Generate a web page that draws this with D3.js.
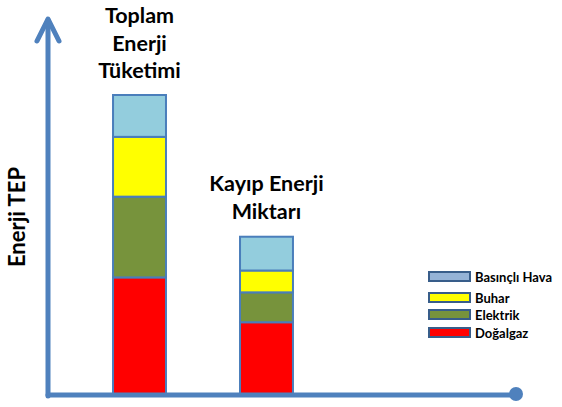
<!DOCTYPE html>
<html>
<head>
<meta charset="utf-8">
<script src="https://cdn.jsdelivr.net/npm/d3@7"></script>
<style>
  html, body { margin: 0; padding: 0; background: #fff; }
  svg { display: block; font-family: Lato, "Open Sans", sans-serif; }
</style>
</head>
<body>
<svg id="chart" width="562" height="407"></svg>
<script>
// Energy breakdown (TEP) for total consumption and losses
const categories = ["Toplam Enerji Tüketimi", "Kayıp Enerji Miktarı"];
const categoryLines = [["Toplam", "Enerji", "Tüketimi"], ["Kayıp Enerji", "Miktarı"]];
const seriesNames = ["Doğalgaz", "Elektrik", "Buhar", "Basınçlı Hava"];
const dogalgaz = [39, 24];
const elektrik = [27, 10];
const buhar = [20, 7.3];
const basincliHava = [14, 11.3];
const legendOrder = ["Basınçlı Hava", "Buhar", "Elektrik", "Doğalgaz"];

const barColors = { "Doğalgaz": "#FF0000", "Elektrik": "#77933C", "Buhar": "#FFFF00", "Basınçlı Hava": "#93CDDD" };
const legendColors = { "Doğalgaz": "#FF0000", "Elektrik": "#77933C", "Buhar": "#FFFF00", "Basınçlı Hava": "#95B3D7" };

const rows = categories.map((c, i) => ({
  category: c,
  "Doğalgaz": dogalgaz[i],
  "Elektrik": elektrik[i],
  "Buhar": buhar[i],
  "Basınçlı Hava": basincliHava[i]
}));

const svg = d3.select("#chart");
const axisColor = "#4F81BD";

const x = d3.scaleBand().domain(categories).range([39, 367]).padding(0.583);
const y = d3.scaleLinear().domain([0, 100]).range([394, 95]);

const stacked = d3.stack().keys(seriesNames)(rows);

// Stacked bars
svg.append("g").selectAll("g")
  .data(stacked)
  .join("g")
  .attr("fill", d => barColors[d.key])
  .selectAll("rect")
  .data(d => d)
  .join("rect")
  .attr("x", d => x(d.data.category))
  .attr("width", x.bandwidth())
  .attr("y", d => y(d[1]))
  .attr("height", d => y(d[0]) - y(d[1]))
  .attr("stroke", "#4A7EBB")
  .attr("stroke-width", 2);

// Axes: vertical arrow and horizontal line ending in a dot
const axisG = svg.append("g").attr("stroke", axisColor).attr("fill", "none")
  .attr("stroke-width", 5).attr("stroke-linecap", "round").attr("stroke-linejoin", "round");
axisG.append("line").attr("x1", 48).attr("y1", 396).attr("x2", 48).attr("y2", 20);
axisG.append("polyline").attr("points", "37,41 48,19 59,41");
axisG.append("line").attr("x1", 48).attr("y1", 395).attr("x2", 514).attr("y2", 395);
svg.append("circle").attr("cx", 516).attr("cy", 394).attr("r", 7).attr("fill", axisColor);

// Category titles above each bar
categoryLines.forEach((lines, i) => {
  const cx = x(categories[i]) + x.bandwidth() / 2;
  const topVal = dogalgaz[i] + elektrik[i] + buhar[i] + basincliHava[i];
  const lastBaseline = y(topVal) - (i === 0 ? 17 : 18);
  lines.forEach((t, j) => {
    svg.append("text")
      .attr("x", cx)
      .attr("y", lastBaseline - (lines.length - 1 - j) * 27.5)
      .attr("text-anchor", "middle")
      .attr("font-size", 21.5)
      .attr("font-weight", "bold")
      .attr("fill", "#000")
      .text(t);
  });
});

// Y axis title
svg.append("text")
  .attr("transform", "translate(25,217) rotate(-90)")
  .attr("text-anchor", "middle")
  .attr("font-size", 22)
  .attr("font-weight", "bold")
  .attr("fill", "#000")
  .text("Enerji TEP");

// Legend
const legendY = [277, 298, 315, 333];
const legend = svg.append("g");
legendOrder.forEach((name, i) => {
  legend.append("rect")
    .attr("x", 429).attr("y", legendY[i] - 5)
    .attr("width", 41).attr("height", 9)
    .attr("fill", legendColors[name])
    .attr("stroke", "#385D8A").attr("stroke-width", 2);
  legend.append("text")
    .attr("x", 475).attr("y", legendY[i])
    .attr("dy", "0.35em")
    .attr("font-size", 13)
    .attr("font-weight", "bold")
    .attr("fill", "#000")
    .text(name);
});
</script>
</body>
</html>
